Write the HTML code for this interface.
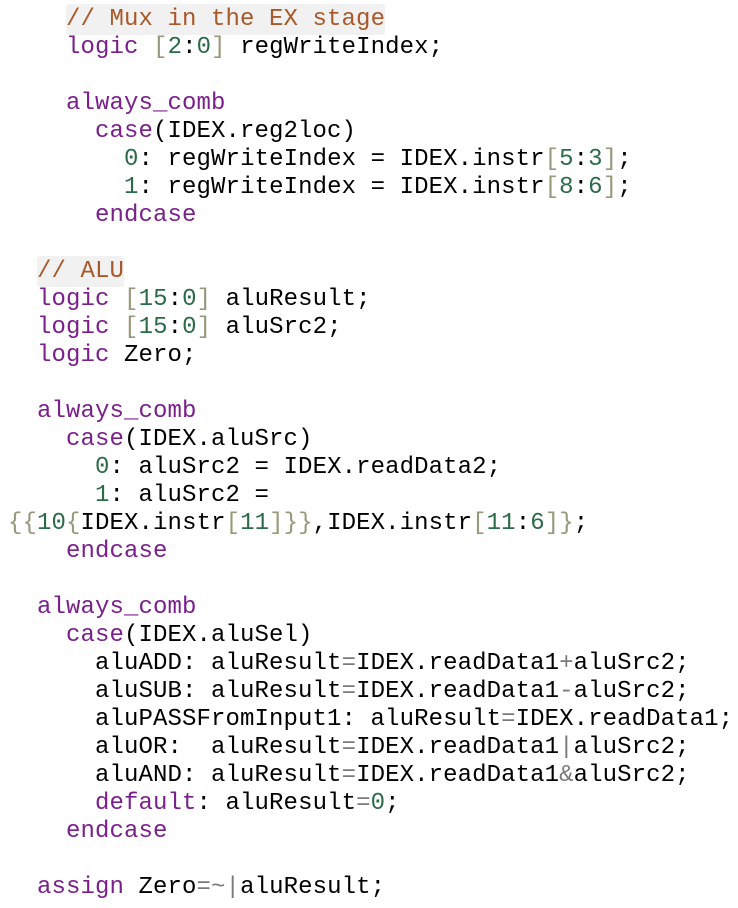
<!DOCTYPE html>
<html><head><meta charset="utf-8"><style>
html,body{margin:0;padding:0;background:#fff;width:738px;height:908px;overflow:hidden}
pre{margin:0;padding:6px 0 0 8px;font-family:"Liberation Mono",monospace;font-size:24px;line-height:28px;color:#000;letter-spacing:0.1px}
.k{color:#7b1f8c}.c{color:#a8592a;background:#f1f1f1;border-radius:3px;padding:2px 0}.n{color:#2b6b48}.b{color:#98987a}.o{color:#7a7a7a}
</style></head><body><pre>    <span class="c">// Mux in the EX stage</span>
    <span class="k">logic</span> <span class="b">[</span><span class="n">2</span>:<span class="n">0</span><span class="b">]</span> regWriteIndex;

    <span class="k">always_comb</span>
      <span class="k">case</span>(IDEX.reg2loc)
        <span class="n">0</span>: regWriteIndex = IDEX.instr<span class="b">[</span><span class="n">5</span>:<span class="n">3</span><span class="b">]</span>;
        <span class="n">1</span>: regWriteIndex = IDEX.instr<span class="b">[</span><span class="n">8</span>:<span class="n">6</span><span class="b">]</span>;
      <span class="k">endcase</span>

  <span class="c">// ALU</span>
  <span class="k">logic</span> <span class="b">[</span><span class="n">15</span>:<span class="n">0</span><span class="b">]</span> aluResult;
  <span class="k">logic</span> <span class="b">[</span><span class="n">15</span>:<span class="n">0</span><span class="b">]</span> aluSrc2;
  <span class="k">logic</span> Zero;

  <span class="k">always_comb</span>
    <span class="k">case</span>(IDEX.aluSrc)
      <span class="n">0</span>: aluSrc2 = IDEX.readData2;
      <span class="n">1</span>: aluSrc2 =
<span class="b">{{</span><span class="n">10</span><span class="b">{</span>IDEX.instr<span class="b">[</span><span class="n">11</span><span class="b">]}}</span>,IDEX.instr<span class="b">[</span><span class="n">11</span>:<span class="n">6</span><span class="b">]}</span>;
    <span class="k">endcase</span>

  <span class="k">always_comb</span>
    <span class="k">case</span>(IDEX.aluSel)
      aluADD: aluResult<span class="o">=</span>IDEX.readData1<span class="o">+</span>aluSrc2;
      aluSUB: aluResult<span class="o">=</span>IDEX.readData1<span class="o">-</span>aluSrc2;
      aluPASSFromInput1: aluResult<span class="o">=</span>IDEX.readData1;
      aluOR:  aluResult<span class="o">=</span>IDEX.readData1<span class="o">|</span>aluSrc2;
      aluAND: aluResult<span class="o">=</span>IDEX.readData1<span class="o">&amp;</span>aluSrc2;
      <span class="k">default</span>: aluResult<span class="o">=</span><span class="n">0</span>;
    <span class="k">endcase</span>

  <span class="k">assign</span> Zero<span class="o">=~|</span>aluResult;</pre></body></html>
